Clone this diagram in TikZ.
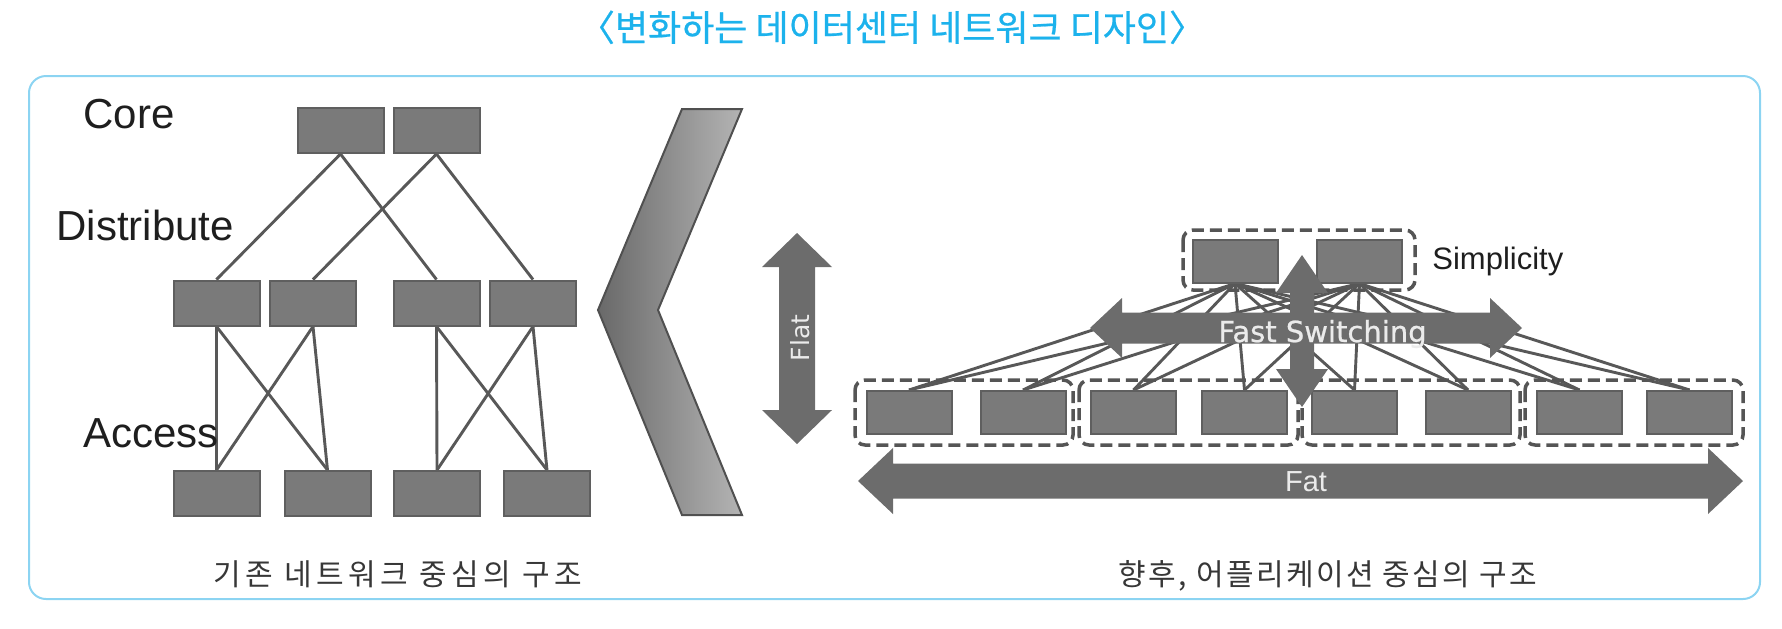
\documentclass[tikz,border=0pt]{standalone}
\usepackage{fontspec}
\setmainfont{Liberation Sans}
\newfontfamily\kr[FakeBold=0.6]{Noto Sans CJK KR}
\newfontfamily\krcapA[LetterSpace=15]{Noto Sans CJK KR}
\newfontfamily\krcapB[LetterSpace=8]{Noto Sans CJK KR}
\newfontfamily\dv[FakeBold=0.8]{DejaVu Sans}
\newfontfamily\dvflat{DejaVu Sans}
\pgfdeclarelayer{bg}
\pgfsetlayers{bg,main}
\definecolor{boxfill}{RGB}{122,122,122}
\definecolor{boxdraw}{RGB}{95,95,95}
\definecolor{linec}{RGB}{88,88,88}
\definecolor{arrowc}{RGB}{108,108,108}
\definecolor{framec}{RGB}{140,212,242}
\definecolor{titlec}{RGB}{28,178,236}
\definecolor{dashc}{RGB}{85,85,85}
\definecolor{labelc}{RGB}{30,30,30}
\definecolor{capc}{RGB}{55,55,55}
\definecolor{chevL}{RGB}{105,105,105}
\definecolor{chevR}{RGB}{180,180,180}
\definecolor{chevD}{RGB}{80,80,80}
\definecolor{lighttext}{RGB}{235,235,235}
\begin{document}
\begin{tikzpicture}[x=0.5pt,y=-0.5pt,
  sw/.style={rectangle, fill=boxfill, draw=boxdraw, line width=1pt, inner sep=0pt, minimum width=42.5pt, minimum height=21.5pt},
  lsw/.style={sw, minimum width=43pt, minimum height=22.5pt},
  link/.style={draw=linec, line width=1.45pt},
  grp/.style={draw=dashc, line width=1.75pt, dash pattern=on 6pt off 3pt, rounded corners=5pt},
  bigarrow/.style={fill=arrowc},
  lbl/.style={anchor=base west, text=labelc, font=\fontsize{21}{25}\selectfont, inner sep=0pt},
  captext/.style={anchor=base, text=capc, inner sep=0pt},
  ontext/.style={anchor=base, text=lighttext, inner sep=0pt}
]
\useasboundingbox (0,0) rectangle (1782,628);

% title
\node[anchor=base, text=titlec, font=\kr\fontsize{18}{21}\selectfont, inner sep=0pt] (title) at (892,41) {〈변화하는 데이터센터 네트워크 디자인〉};

% frame
\begin{pgfonlayer}{bg}
\draw[framec, line width=1pt, rounded corners=8.5pt] (29,76) rectangle (1760,599);
\end{pgfonlayer}

% ---------- left: hierarchical ----------
\node[lbl] (core) at (83,128) {Core};
\node[lbl] (dist) at (56,240) {Distribute};
\node[lbl] (acc) at (83,447) {Access};

\node[lsw] (c1) at (340.5,130.5) {};
\node[lsw] (c2) at (436.5,130.5) {};
\node[lsw] (d1) at (216.5,303) {};
\node[lsw] (d2) at (313,303) {};
\node[lsw] (d3) at (436.5,303) {};
\node[lsw] (d4) at (533,303) {};
\node[lsw] (a1) at (216.5,493.5) {};
\node[lsw] (a2) at (327.5,493.5) {};
\node[lsw] (a3) at (437,493.5) {};
\node[lsw] (a4) at (547,493.5) {};

\begin{pgfonlayer}{bg}
\draw[link] (c1.south) -- (d1.north);
\draw[link] (c1.south) -- (d3.north);
\draw[link] (c2.south) -- (d2.north);
\draw[link] (c2.south) -- (d4.north);
\draw[link] (d1.south) -- (a1.north);
\draw[link] (d1.south) -- (a2.north);
\draw[link] (d2.south) -- (a1.north);
\draw[link] (d2.south) -- (a2.north);
\draw[link] (d3.south) -- (a3.north);
\draw[link] (d3.south) -- (a4.north);
\draw[link] (d4.south) -- (a3.north);
\draw[link] (d4.south) -- (a4.north);
\end{pgfonlayer}

\node[captext, font=\krcapA\fontsize{15}{18}\selectfont] (cap1) at (398,585) {기존 네트워크 중심의 구조};

% ---------- chevron ----------
\shadedraw[left color=chevL, right color=chevR, draw=chevD, line width=1pt]
  (682,109) -- (742,109) -- (658,310) -- (742,515) -- (682,515) -- (598,310) -- cycle;

% ---------- Flat arrow ----------
\fill[bigarrow] (797,233) -- (832,267) -- (815,267) -- (815,410) -- (832,410) -- (797,444)
  -- (762,410) -- (779,410) -- (779,267) -- (762,267) -- cycle;
\node[rotate=90, text=lighttext, font=\dvflat\fontsize{12.5}{15}\selectfont, inner sep=0pt] (flat) at (800,338) {Flat};

% ---------- right: flat fabric ----------
\node[sw] (t1) at (1235,261) {};
\node[sw] (t2) at (1359.5,261) {};
\node[sw] (b1) at (909,412.5) {};
\node[sw] (b2) at (1023,412.5) {};
\node[sw] (b3) at (1133.5,412.5) {};
\node[sw] (b4) at (1244.5,412.5) {};
\node[sw] (b5) at (1354.5,412.5) {};
\node[sw] (b6) at (1468,412.5) {};
\node[sw] (b7) at (1579.5,412.5) {};
\node[sw] (b8) at (1689.5,412.5) {};

\begin{pgfonlayer}{bg}
\foreach \i in {1,...,8} {
  \draw[link] (t1.south) -- (b\i.north);
  \draw[link] (t2.south) -- (b\i.north);
}
\end{pgfonlayer}

\draw[grp] (1183,230) rectangle (1415,290);
\draw[grp] (855,380) rectangle (1073,445);
\draw[grp] (1079,380) rectangle (1298,445);
\draw[grp] (1302,380) rectangle (1520,445);
\draw[grp] (1525,380) rectangle (1743,445);

\node[anchor=base west, text=labelc, font=\fontsize{15.5}{18}\selectfont, inner sep=0pt] (simp) at (1432,269) {Simplicity};

% Fast switching arrows
\fill[bigarrow] (1090,328) -- (1122,298) -- (1122,312.5) -- (1490,312.5) -- (1490,298) -- (1522,328)
  -- (1490,358) -- (1490,343.5) -- (1122,343.5) -- (1122,358) -- cycle;
\fill[bigarrow] (1302,255) -- (1328,293) -- (1314,293) -- (1314,369) -- (1328,369) -- (1302,407)
  -- (1276,369) -- (1290,369) -- (1290,293) -- (1276,293) -- cycle;
\node[ontext, font=\dv\fontsize{14.5}{17}\selectfont] (fs) at (1322.5,342) {Fast Switching};

% Fat arrow
\fill[bigarrow] (858,481) -- (893,448) -- (893,463.5) -- (1708,463.5) -- (1708,448) -- (1743,481)
  -- (1708,514) -- (1708,498.5) -- (893,498.5) -- (893,514) -- cycle;
\node[ontext, font=\fontsize{14.5}{17}\selectfont] (fat) at (1306,491) {Fat};

\node[captext, font=\krcapB\fontsize{15}{18}\selectfont] (cap2) at (1328,585) {향후, 어플리케이션 중심의 구조};
\end{tikzpicture}
\end{document}
